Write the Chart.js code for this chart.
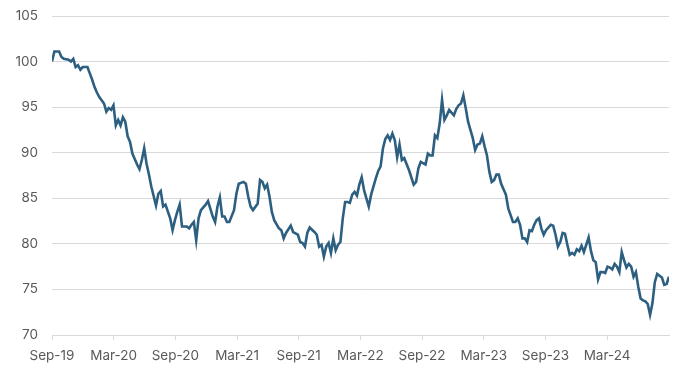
<!DOCTYPE html>
<html>
<head>
<meta charset="utf-8">
<script src="https://cdn.jsdelivr.net/npm/chart.js@4/dist/chart.umd.min.js"></script>
<style>
  html, body { margin: 0; padding: 0; background: #ffffff; }
  #wrap { width: 679px; height: 371px; position: relative; }
</style>
</head>
<body>
<div id="wrap"><canvas id="c" width="679" height="371"></canvas></div>
<script>
// Weeks since the start of Sep-2019
const weekIndex = [0,1,3,4,5,7,8,9,10,11,12,13,15,16,17,18,19,20,22,23,24,25,26,27,28,29,30,31,32,33,34,36,37,38,39,40,41,42,44,45,46,47,48,50,51,52,53,54,55,57,58,59,60,61,62,63,65,66,68,69,70,71,72,73,74,75,77,78,79,81,82,83,84,85,87,88,89,90,91,92,93,94,96,97,98,99,101,102,104,105,106,107,108,109,111,112,113,114,115,116,117,118,119,120,121,122,123,124,125,126,127,128,129,130,131,132,133,134,135,137,138,139,140,141,142,143,144,145,146,147,148,149,151,153,154,155,156,158,159,160,161,162,163,164,165,166,167,168,169,170,171,172,173,174,175,176,178,179,180,181,182,183,184,185,186,187,188,189,190,192,193,195,196,197,198,199,200,201,202,203,204,205,206,207,208,209,211,212,213,214,215,216,217,218,219,220,221,222,223,224,225,226,227,228,229,230,231,232,233,234,235,236,237,238,239,240,241,242,243,244,245,246,247,248,249,250,251,252,253,254,255,256,257,258,259,260,261];
const indexValues = [100.0,101.1,101.1,100.5,100.3,100.2,100.0,100.3,99.4,99.6,99.1,99.4,99.4,98.7,98.0,97.2,96.6,96.1,95.4,94.5,94.9,94.7,95.2,93.0,93.6,93.0,93.9,93.4,91.8,91.2,89.9,88.7,88.2,89.2,90.5,88.8,87.6,86.3,84.2,85.5,85.8,84.1,84.3,82.8,81.5,82.6,83.5,84.3,81.9,81.9,81.7,82.1,82.4,80.4,82.8,83.7,84.3,84.7,83.0,82.4,84.1,85.1,83.0,83.0,82.4,82.4,83.7,85.5,86.6,86.8,86.6,85.2,84.1,83.7,84.4,87.0,86.8,86.1,86.5,85.2,83.5,82.6,81.7,81.5,80.6,81.2,82.0,81.3,81.0,80.2,80.1,79.7,81.2,81.8,81.3,81.0,79.7,79.9,78.6,79.7,80.1,79.0,80.6,79.3,79.9,80.2,82.8,84.6,84.6,84.5,85.4,85.7,85.3,86.5,87.3,85.9,85.0,84.1,85.4,87.2,88.0,88.5,90.5,91.5,91.9,91.4,92.1,91.4,89.5,90.9,89.2,89.4,88.1,86.5,86.8,88.3,89.0,88.7,89.9,89.7,89.7,91.9,91.6,93.2,95.8,93.6,94.1,94.7,94.4,94.1,94.8,95.2,95.4,96.3,94.9,93.4,91.6,90.3,90.9,91.0,91.8,90.7,89.7,87.9,86.8,87.0,87.6,87.6,86.6,85.4,83.9,82.4,82.4,82.8,82.1,80.6,80.6,80.2,81.5,81.4,82.1,82.6,82.8,81.7,81.0,81.5,82.1,82.0,81.0,79.7,80.2,81.2,81.1,79.9,78.8,79.0,78.8,79.4,79.2,79.8,79.1,79.9,80.7,79.2,78.2,78.0,76.1,76.9,76.9,76.8,77.5,77.4,77.2,77.8,77.5,76.9,79.1,78.2,77.4,77.8,77.5,76.4,76.9,75.3,74.0,73.8,73.7,73.4,72.2,73.5,75.8,76.7,76.5,76.3,75.5,75.6,76.4];
const tickLabels = ['Sep-19','Mar-20','Sep-20','Mar-21','Sep-21','Mar-22','Sep-22','Mar-23','Sep-23','Mar-24'];
const weeksPerHalfYear = 52.18 / 2;
const yMin = 70, yMax = 105, yStep = 5;

const points = weekIndex.map((w, i) => ({ x: w, y: indexValues[i] }));
const labelFont = { family: 'Inter, "Open Sans", sans-serif', size: 13.5 };

new Chart(document.getElementById('c'), {
  type: 'line',
  data: {
    datasets: [{
      data: points,
      borderColor: '#2c5f80',
      borderWidth: 2.6,
      pointRadius: 0,
      tension: 0,
      fill: false
    }]
  },
  options: {
    responsive: false,
    animation: false,
    devicePixelRatio: 1,
    layout: { padding: { top: 16, right: 10, left: 0, bottom: 0 } },
    plugins: { legend: { display: false }, tooltip: { enabled: false } },
    scales: {
      x: {
        type: 'linear',
        min: 0,
        max: 261,
        afterFit: (s) => { s.height = 36; s.paddingTop = 0; s.paddingBottom = 0; },
        afterBuildTicks: (s) => {
          s.ticks = tickLabels.map((l, i) => ({ value: i * weeksPerHalfYear }));
        },
        ticks: {
          autoSkip: false,
          maxRotation: 0,
          padding: 8,
          color: '#595959',
          font: labelFont,
          callback: (v, i) => tickLabels[i]
        },
        grid: { drawOnChartArea: false, drawTicks: true, tickLength: 5, color: '#d9d9d9', lineWidth: 1 },
        border: { display: true, color: '#d9d9d9', width: 1 }
      },
      y: {
        min: yMin,
        max: yMax,
        afterFit: (s) => { s.width = 52; s.paddingTop = 0; s.paddingBottom = 0; },
        ticks: {
          stepSize: yStep,
          padding: 14,
          color: '#595959',
          font: labelFont
        },
        grid: { drawTicks: false, color: '#d9d9d9', lineWidth: 1 },
        border: { display: false }
      }
    }
  }
});
</script>
</body>
</html>
